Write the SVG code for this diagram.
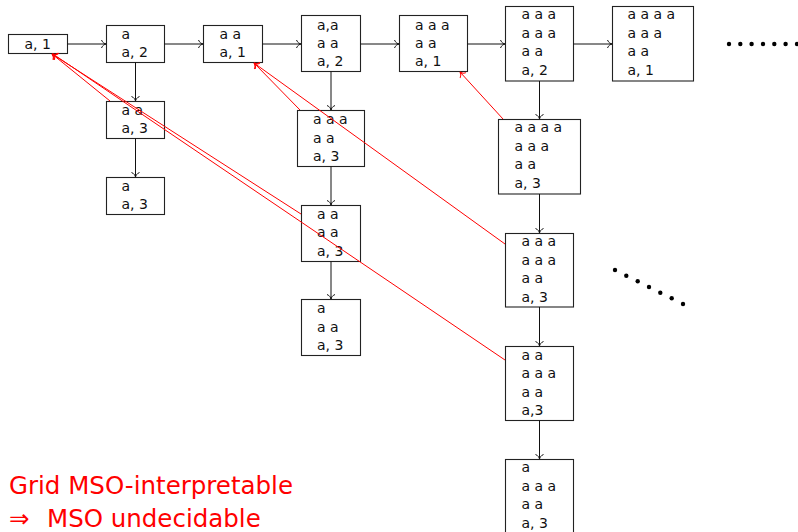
<svg xmlns="http://www.w3.org/2000/svg" width="798" height="532" viewBox="0 0 798 532">
<style>
.box{fill:#fff;stroke:#222;stroke-width:1.1}
.t{font-family:"DejaVu Sans",sans-serif;font-size:14px;fill:#111}
.e{fill:none;stroke:#111;stroke-width:1;marker-end:url(#ab)}
.r{fill:none;stroke:#f00;stroke-width:1;marker-end:url(#ar)}
.big{font-family:"DejaVu Sans",sans-serif;font-size:24.5px;fill:#f00}
.dot{fill:#000}
</style>
<defs>
<marker id="ab" markerUnits="userSpaceOnUse" markerWidth="12" markerHeight="12" viewBox="-6 -6 12 12" refX="0" refY="0" orient="auto">
<path d="M-4.5,-4 C-3.5,-1.2 -1.2,-0.3 0,0 C-1.2,0.3 -3.5,1.2 -4.5,4" fill="none" stroke="#111" stroke-width="1"/>
</marker>
<marker id="ar" markerUnits="userSpaceOnUse" markerWidth="12" markerHeight="12" viewBox="-6 -6 12 12" refX="0" refY="0" orient="auto">
<path d="M-4.5,-4 C-3.5,-1.2 -1.2,-0.3 0,0 C-1.2,0.3 -3.5,1.2 -4.5,4" fill="none" stroke="#f00" stroke-width="1"/>
</marker>
</defs>

<g id="n1"><rect class="box" x="8.5" y="34.5" width="59" height="19"/><text class="t" x="24.5" y="48.5">a, 1</text></g>
<g id="n2"><rect class="box" x="106.5" y="25.5" width="58" height="37"/><text class="t" x="121.5" y="38.5">a</text><text class="t" x="121.5" y="57">a, 2</text></g>
<g id="n3"><rect class="box" x="203.5" y="25.5" width="59" height="37"/><text class="t" x="219.5" y="38.5">a a</text><text class="t" x="219.5" y="57">a, 1</text></g>
<g id="n4"><rect class="box" x="301.5" y="15.5" width="59" height="56"/><text class="t" x="317" y="29.5">a,a</text><text class="t" x="317" y="48">a a</text><text class="t" x="317" y="66.3">a, 2</text></g>
<g id="n5"><rect class="box" x="399.5" y="15.5" width="68" height="56"/><text class="t" x="415" y="29.5">a a a</text><text class="t" x="415" y="48">a a</text><text class="t" x="415" y="66.3">a, 1</text></g>
<g id="n6"><rect class="box" x="505.5" y="6.5" width="68" height="74.5"/><text class="t" x="521.5" y="19">a a a</text><text class="t" x="521.5" y="37.5">a a a</text><text class="t" x="521.5" y="56">a a</text><text class="t" x="521.5" y="74.5">a, 2</text></g>
<g id="n7"><rect class="box" x="612.5" y="6.5" width="81" height="74.5"/><text class="t" x="627.5" y="19">a a a a</text><text class="t" x="627.5" y="37.5">a a a</text><text class="t" x="627.5" y="56">a a</text><text class="t" x="627.5" y="74.5">a, 1</text></g>

<g id="n2b"><rect class="box" x="106.5" y="101.5" width="58" height="37"/><text class="t" x="121.5" y="114.5">a a</text><text class="t" x="121.5" y="133">a, 3</text></g>
<g id="n2c"><rect class="box" x="106.5" y="177.5" width="58" height="37"/><text class="t" x="121.5" y="190.5">a</text><text class="t" x="121.5" y="209">a, 3</text></g>

<g id="n4b"><rect class="box" x="297.5" y="110.5" width="67" height="56"/><text class="t" x="313" y="124">a a a</text><text class="t" x="313" y="142.5">a a</text><text class="t" x="313" y="161">a, 3</text></g>
<g id="n4c"><rect class="box" x="301.5" y="205.5" width="59" height="56"/><text class="t" x="317" y="218.5">a a</text><text class="t" x="317" y="237">a a</text><text class="t" x="317" y="255.5">a, 3</text></g>
<g id="n4d"><rect class="box" x="301.5" y="299.5" width="59" height="56"/><text class="t" x="317" y="313">a</text><text class="t" x="317" y="331.5">a a</text><text class="t" x="317" y="350">a, 3</text></g>

<g id="n6b"><rect class="box" x="498.5" y="119.5" width="82" height="74.5"/><text class="t" x="514.5" y="132.2">a a a a</text><text class="t" x="514.5" y="150.7">a a a</text><text class="t" x="514.5" y="169">a a</text><text class="t" x="514.5" y="187.5">a, 3</text></g>
<g id="n6c"><rect class="box" x="505.5" y="233.5" width="68" height="73.5"/><text class="t" x="521.5" y="246">a a a</text><text class="t" x="521.5" y="264.5">a a a</text><text class="t" x="521.5" y="283">a a</text><text class="t" x="521.5" y="301.5">a, 3</text></g>
<g id="n6d"><rect class="box" x="505.5" y="346.5" width="68" height="74"/><text class="t" x="521.5" y="359.5">a a</text><text class="t" x="521.5" y="378">a a a</text><text class="t" x="521.5" y="396.5">a a</text><text class="t" x="521.5" y="415">a,3</text></g>
<g id="n6e"><rect class="box" x="505.5" y="459.5" width="68" height="76"/><text class="t" x="521.5" y="472.2">a</text><text class="t" x="521.5" y="490.7">a a a</text><text class="t" x="521.5" y="509.2">a a</text><text class="t" x="521.5" y="528">a, 3</text></g>

<g id="connectors">
<line class="e" x1="67.5" y1="44" x2="106" y2="44"/>
<line class="e" x1="164.5" y1="44" x2="203" y2="44"/>
<line class="e" x1="262.5" y1="44" x2="301" y2="44"/>
<line class="e" x1="360.5" y1="44" x2="399" y2="44"/>
<line class="e" x1="467.5" y1="44" x2="505" y2="44"/>
<line class="e" x1="573.5" y1="44" x2="612" y2="44"/>
<line class="e" x1="135.5" y1="62.5" x2="135.5" y2="101"/>
<line class="e" x1="135.5" y1="138.5" x2="135.5" y2="177"/>
<line class="e" x1="331" y1="71.5" x2="331" y2="110"/>
<line class="e" x1="331" y1="166.5" x2="331" y2="205"/>
<line class="e" x1="331" y1="261.5" x2="331" y2="299"/>
<line class="e" x1="539.5" y1="81" x2="539.5" y2="119"/>
<line class="e" x1="539.5" y1="194" x2="539.5" y2="233"/>
<line class="e" x1="539.5" y1="307" x2="539.5" y2="346"/>
<line class="e" x1="539.5" y1="420.5" x2="539.5" y2="459"/>
<line class="r" x1="110" y1="101" x2="52" y2="54"/>
<line class="r" x1="301" y1="214" x2="52" y2="54"/>
<line class="r" x1="505" y1="360" x2="53" y2="54"/>
<line class="r" x1="300" y1="110" x2="254" y2="63"/>
<line class="r" x1="505" y1="244" x2="254" y2="63"/>
<line class="r" x1="503" y1="119" x2="460" y2="72"/>
</g>

<g id="dots">
<circle class="dot" cx="729" cy="44" r="2.2"/><circle class="dot" cx="740.3" cy="44" r="2.2"/><circle class="dot" cx="751.6" cy="44" r="2.2"/><circle class="dot" cx="763" cy="44" r="2.2"/><circle class="dot" cx="774.3" cy="44" r="2.2"/><circle class="dot" cx="785.6" cy="44" r="2.2"/><circle class="dot" cx="797" cy="44" r="2.2"/>
<circle class="dot" cx="615" cy="270" r="2.2"/><circle class="dot" cx="626.3" cy="275.7" r="2.2"/><circle class="dot" cx="637.7" cy="281.3" r="2.2"/><circle class="dot" cx="649" cy="287" r="2.2"/><circle class="dot" cx="660.3" cy="292.7" r="2.2"/><circle class="dot" cx="671.7" cy="298.3" r="2.2"/><circle class="dot" cx="683" cy="304" r="2.2"/>
</g>

<text class="big" x="9" y="494">Grid MSO-interpretable</text>
<text class="big" y="527"><tspan x="9">⇒</tspan><tspan x="47">MSO undecidable</tspan></text>
</svg>
